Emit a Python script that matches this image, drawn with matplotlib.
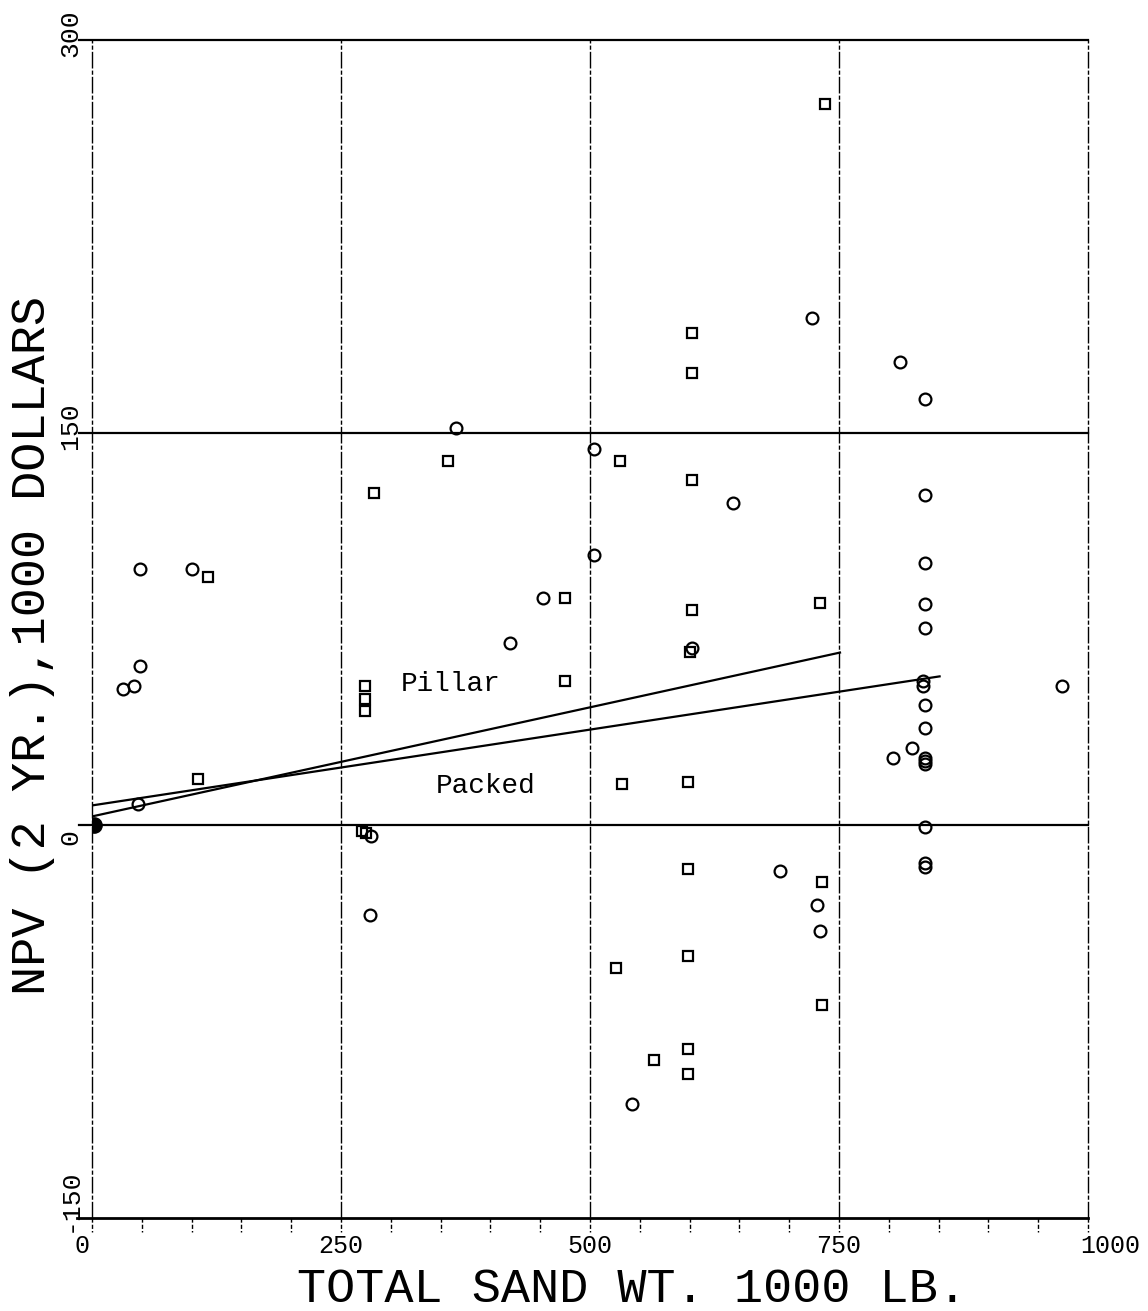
import matplotlib
matplotlib.use("Agg")
import matplotlib.pyplot as plt
import matplotlib.transforms as mtransforms
import numpy as np

# ---- data: total sand weight (1000 lb) vs 2-year NPV (1000 dollars) ----
pillar_x = [736, 602, 602, 602, 602, 600, 530, 475, 475, 357, 283, 116, 106,
            274, 274, 274, 271, 275, 731, 598, 598, 526, 598, 598, 564, 532,
            598, 733, 733]
pillar_y = [275.6, 188.2, 172.9, 132.1, 82.4, 66.4, 139.3, 87.0, 55.3, 139.3,
            127.1, 94.7, 17.6, 53.1, 48.1, 43.5, -2.0, -3.0, 85.1, -16.8,
            -50.0, -54.6, -85.5, -95.0, -89.7, 15.6, 16.4, -21.8, -68.7]

packed_x = [48, 100, 48, 42, 31, 46, 365, 453, 420, 504, 504, 644, 602, 723,
            811, 836, 836, 836, 836, 836, 834, 834, 836, 836, 823, 804, 836,
            836, 836, 974, 836, 836, 836, 691, 728, 731, 542, 279, 280]
packed_y = [98.1, 98.1, 60.7, 53.4, 51.9, 8.0, 151.9, 87.0, 69.5, 103.1,
            143.9, 123.3, 67.9, 193.9, 177.1, 163.0, 126.3, 100.4, 84.4, 75.2,
            55.0, 53.4, 45.8, 37.0, 29.4, 25.6, 25.6, 24.4, 23.3, 53.4, -0.8,
            -14.5, -16.0, -17.6, -30.5, -40.5, -106.5, -34.4, -4.0]

origin_x = [2]
origin_y = [0]

# fitted trend lines: intercept, slope, x range
pillar_fit = dict(b=3.4, m=(66.0 - 3.4) / 751.0, x=[0, 751])
packed_fit = dict(b=7.6, m=(56.9 - 7.6) / 851.0, x=[0, 851])

x_ticks = [0, 250, 500, 750, 1000]
x_tick_labels = ["0", "250", "500", "750", "1000"]
y_ticks = [300, 150, 0, -150]
y_tick_labels = ["300", "150", "0", "-150"]

# ---- figure ----
W, H = 1148, 1311
fig = plt.figure(figsize=(W / 100, H / 100), dpi=100)
ax = fig.add_axes([92 / W, 1 - 1218 / H, (1088 - 92) / W, (1218 - 40) / H])
ax.set_xlim(0, 1000)
ax.set_ylim(-150, 300)
for s in ax.spines.values():
    s.set_visible(False)
ax.set_xticks([])
ax.set_yticks([])

mono = "Liberation Mono"
px_per_y = (1218 - 40) / 450.0

# vertical grid (fine broken lines)
for xv in x_ticks:
    ax.plot([xv, xv], [-150, 300], color="black", lw=1.0,
            linestyle=(0, (12, 1.5, 3, 1.5)), clip_on=False, zorder=1)

# horizontal lines (solid, slight overhang to the left)
for yv in [300, 150, 0]:
    ax.plot([-13, 1000], [yv, yv], color="black", lw=1.6, clip_on=False, zorder=1)
ax.plot([-15, 1000], [-150, -150], color="black", lw=2.0, clip_on=False, zorder=1)

# ticks below the x axis
tick_x = np.arange(0, 1001, 50)
tick_len = 14 / px_per_y
for tx in tick_x:
    ax.plot([tx, tx], [-150, -150 - tick_len], color="black", lw=1.0,
            linestyle=(0, (3, 1.5)), clip_on=False, zorder=1)

# points
ax.plot(pillar_x, pillar_y, linestyle="none", marker="s", markersize=7.5,
        markerfacecolor="none", markeredgecolor="black", markeredgewidth=1.6,
        zorder=3)
ax.plot(packed_x, packed_y, linestyle="none", marker="o", markersize=8.5,
        markerfacecolor="none", markeredgecolor="black", markeredgewidth=1.6,
        zorder=3)
ax.plot(origin_x, origin_y, linestyle="none", marker="o", markersize=11,
        color="black", zorder=4)

# trend lines
for fit in (pillar_fit, packed_fit):
    xs = np.array(fit["x"], dtype=float)
    ax.plot(xs, fit["b"] + fit["m"] * xs, color="black", lw=1.6, zorder=2)

ax.text(360, 53.8, "Pillar", fontsize=20, family=mono, ha="center", va="center")
ax.text(395, 14.9, "Packed", fontsize=20, family=mono, ha="center", va="center")

# x tick labels
xlab_tr = mtransforms.blended_transform_factory(ax.transData, ax.transAxes)
for xv, lab in zip(x_ticks, x_tick_labels):
    ha = "center"
    dx = 0
    if xv == 0:
        ha, dx = "right", -3
    elif xv == 1000:
        ha, dx = "left", -8
    ax.text(xv + dx, -0.0135, lab, transform=xlab_tr, ha=ha, va="top",
            fontsize=18, family=mono)

# y tick labels (rotated, centred near their tick)
ylab_tr = mtransforms.blended_transform_factory(ax.transAxes, ax.transData)
y_shift_px = {300: 7, 150: 6, 0: -12, -150: 18}
for yv, lab in zip(y_ticks, y_tick_labels):
    ax.text(-0.022, yv + y_shift_px[yv] / px_per_y, lab, transform=ylab_tr,
            ha="center", va="center", rotation=90, fontsize=19, family=mono)

# axis titles
fig.text(632 / W, 1 - 1302 / H, "TOTAL SAND WT. 1000 LB.", ha="center",
         va="baseline", fontsize=35, family=mono)
fig.text(33 / W, 1 - 645 / H, "NPV (2 YR.),1000 DOLLARS", ha="center",
         va="center", rotation=90, fontsize=35, family=mono)

fig.savefig("out.png", dpi=100, facecolor="white")
